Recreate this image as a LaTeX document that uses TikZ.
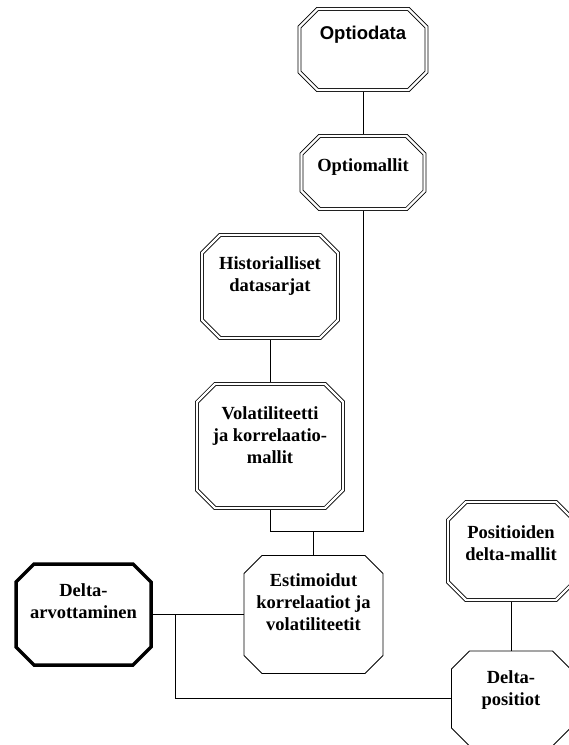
\documentclass[tikz,border=0pt]{standalone}
\usepackage{fontspec}
\setmainfont{Liberation Serif}
\setsansfont{Liberation Sans}
\usetikzlibrary{positioning}
\newcommand{\cham}{18pt}
\newcommand{\octbox}[2][]{%
  \draw[#1] ([xshift=\cham]#2.north west) -- ([xshift=-\cham]#2.north east)
    -- ([yshift=-\cham]#2.north east) -- ([yshift=\cham]#2.south east)
    -- ([xshift=-\cham]#2.south east) -- ([xshift=\cham]#2.south west)
    -- ([yshift=\cham]#2.south west) -- ([yshift=-\cham]#2.north west) -- cycle;}
\tikzset{
  cell/.style={inner sep=0pt, outer sep=0pt},
  dblbox/.style={draw=black, double=white, double distance=2.4pt, line width=0.75pt},
  thinbox/.style={draw=black, line width=0.9pt},
  heavybox/.style={draw=black, line width=3.5pt, line join=miter},
  txt/.style={font=\bfseries\fontsize{18.5}{22}\selectfont, align=center, inner sep=0pt},
  conn/.style={draw=black, line width=0.8pt},
}

\begin{document}
\begin{tikzpicture}[x=1pt, y=-1pt]
  \useasboundingbox (0,0) rectangle (569,745);

  % Boxes
  \node[cell, minimum width=127, minimum height=81] (optiodata) at (363,49.5) {};
  \node[cell, minimum width=123, minimum height=73] (optiomallit) at (363,172.5) {};
  \node[cell, minimum width=136, minimum height=103] (hist) at (270,286.5) {};
  \node[cell, minimum width=146, minimum height=124] (volat) at (270,446) {};
  \node[cell, minimum width=139, minimum height=118] (estim) at (313.5,614.5) {};
  \node[cell, minimum width=135, minimum height=101] (delta) at (83.5,614.5) {};
  \node[cell, minimum width=126, minimum height=98] (pos) at (511,551) {};
  \node[cell, minimum width=119, minimum height=95] (dpos) at (511,698.5) {};

  % Connectors
  \coordinate (jn) at (313.5,531);
  \coordinate (br) at (175,614.5);
  \draw[conn] (optiodata) -- (optiomallit);
  \draw[conn] (hist) -- (volat);
  \draw[conn] (volat.south) -- (volat.south |- jn) -- (optiomallit.south |- jn) -- (optiomallit.south);
  \draw[conn] (jn) -- (estim.north);
  \draw[conn] (delta.east) -- (estim.west);
  \draw[conn] (br) |- (dpos.west);
  \draw[conn] (pos) -- (dpos);

  % Outlines
  \foreach \n in {optiodata,optiomallit,hist,volat,pos} {\octbox[dblbox]{\n}}
  \octbox[thinbox]{estim}
  \octbox[thinbox]{dpos}
  \octbox[heavybox]{delta}

  % Texts
  \node[txt, font=\sffamily\bfseries\fontsize{18.5}{22}\selectfont, below=17pt of optiodata.north] (t-optiodata) {Optiodata};
  \node[txt, below=22pt of optiomallit.north] (t-optiomallit) {Optiomallit};
  \node[txt, below=21pt of hist.north] (t-hist) {Historialliset\\datasarjat};
  \node[txt, below=22pt of volat.north] (t-volat) {Volatiliteetti\\ja korrelaatio-\\mallit};
  \node[txt, below=18pt of estim.north] (t-estim) {Estimoidut\\korrelaatiot ja\\volatiliteetit};
  \node[txt, below=19pt of delta.north] (t-delta) {Delta-\\arvottaminen};
  \node[txt, below=23pt of pos.north] (t-pos) {Positioiden\\delta-mallit};
  \node[txt, below=19pt of dpos.north] (t-dpos) {Delta-\\positiot};
\end{tikzpicture}
\end{document}
